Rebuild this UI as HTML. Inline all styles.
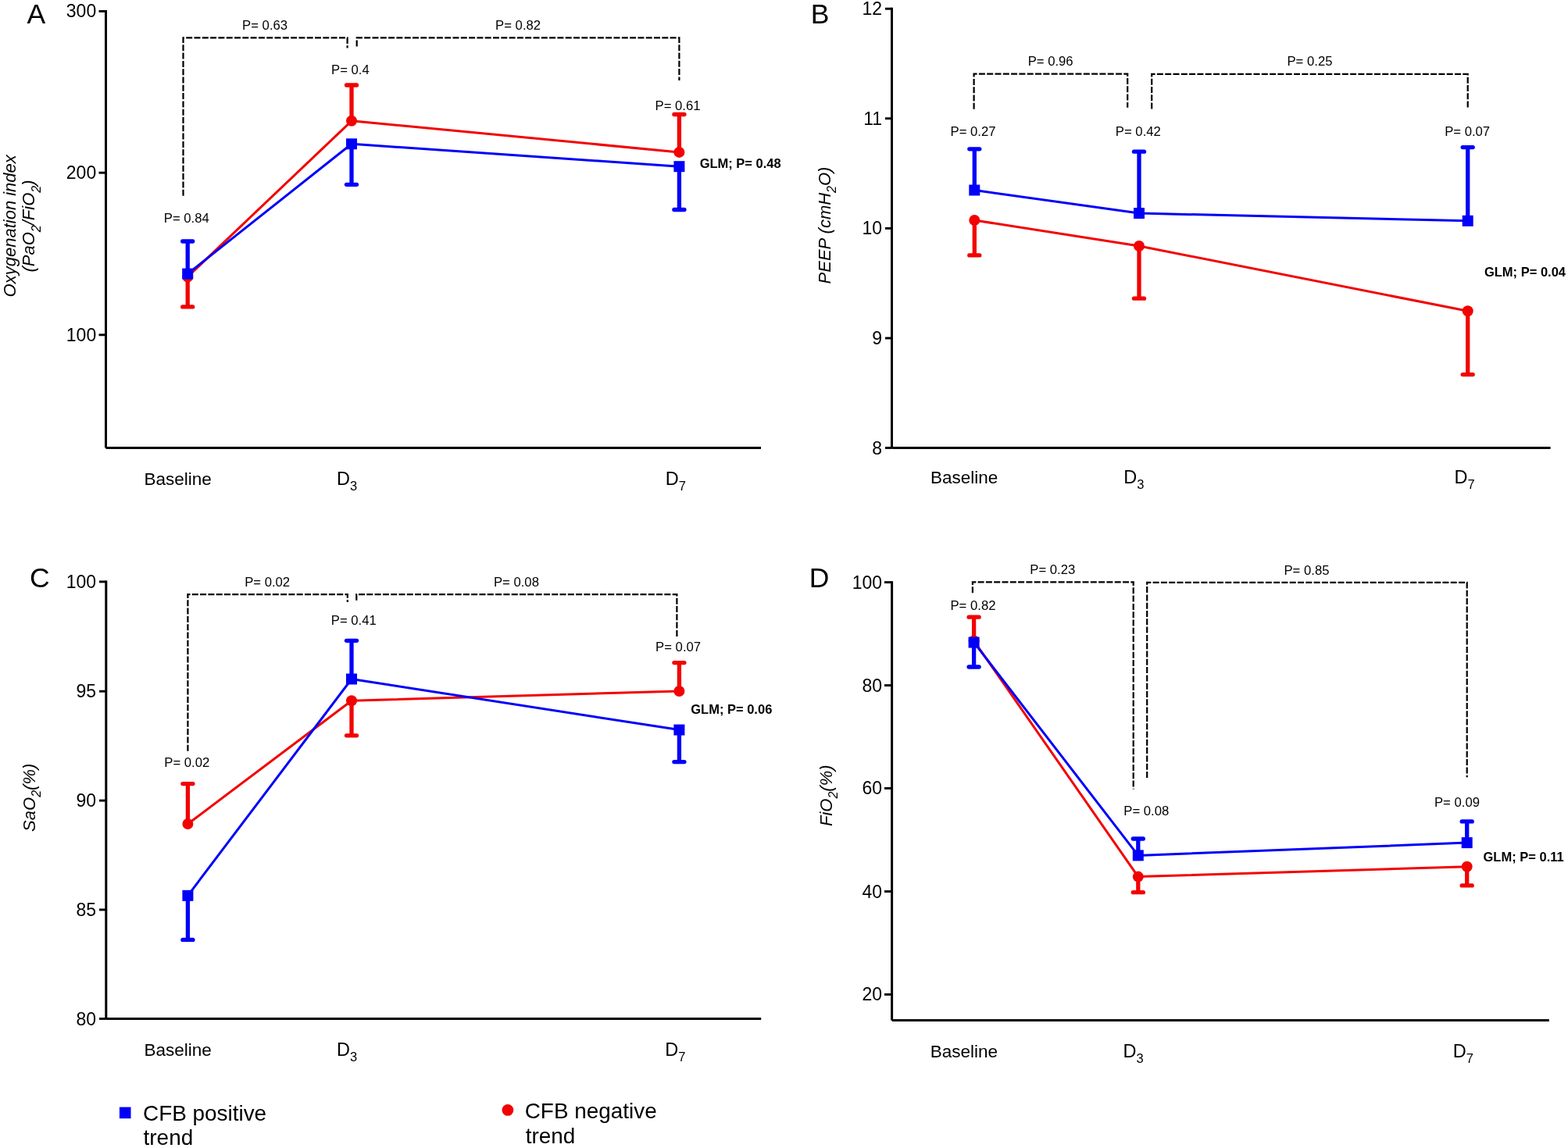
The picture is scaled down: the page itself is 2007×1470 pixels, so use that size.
<!DOCTYPE html>
<html><head><meta charset="utf-8"><title>Figure</title>
<style>
html,body{margin:0;padding:0;background:#fff;}
body{width:2007px;height:1470px;overflow:hidden;}
svg{display:block;}
text{font-family:"Liberation Sans",Arial,Helvetica,sans-serif;fill:#000;}
</style></head><body>
<svg width="2007" height="1470" viewBox="0 0 2007 1470">
<rect width="2007" height="1470" fill="#fff"/>
<text x="34.51" y="29.90" font-size="35.5">A</text>
<line x1="135.5" y1="12.950000000000001" x2="135.5" y2="573.5" stroke="#000" stroke-width="3"/>
<line x1="135.5" y1="573.5" x2="974" y2="573.5" stroke="#000" stroke-width="3"/>
<line x1="126.5" y1="14.4" x2="135.5" y2="14.4" stroke="#000" stroke-width="2.9"/>
<line x1="126.5" y1="221.2" x2="135.5" y2="221.2" stroke="#000" stroke-width="2.9"/>
<line x1="126.5" y1="428.8" x2="135.5" y2="428.8" stroke="#000" stroke-width="2.9"/>
<text x="123.19" y="22.43" font-size="23" text-anchor="end">300</text>
<text x="123.19" y="229.23" font-size="23" text-anchor="end">200</text>
<text x="123.19" y="436.83" font-size="23" text-anchor="end">100</text>
<text x="184.44" y="621.40" font-size="22.5">Baseline</text>
<text x="431.06" y="620.90" font-size="23.5">D<tspan font-size="16.5" dy="7">3</tspan></text>
<text x="851.86" y="620.90" font-size="23.5">D<tspan font-size="16.5" dy="7">7</tspan></text>
<path d="M234.5,250.7 L234.5,48.4 L444.6,48.4 L444.6,61.5" fill="none" stroke="#000" stroke-width="2.2" stroke-dasharray="8 2.3"/>
<path d="M456.7,59.5 L456.7,48.4 L869.4,48.4 L869.4,103.1" fill="none" stroke="#000" stroke-width="2.2" stroke-dasharray="8 2.3"/>
<text x="310.10" y="37.90" font-size="16.7">P= 0.63</text>
<text x="634.11" y="38.30" font-size="16.7">P= 0.82</text>
<text x="424.03" y="95.00" font-size="16.7">P= 0.4</text>
<text x="838.59" y="140.50" font-size="16.7">P= 0.61</text>
<text x="209.77" y="285.00" font-size="16.7">P= 0.84</text>
<text x="895.64" y="215.20" font-size="16.5" font-weight="bold">GLM; P= 0.48</text>
<path d="M240.2,354.5 L450.0,154.8 L869.4,194.9" fill="none" stroke="#F20202" stroke-width="3" stroke-linejoin="round"/>
<line x1="240.2" y1="354.5" x2="240.2" y2="392.9" stroke="#F20202" stroke-width="5.3"/>
<line x1="233.7" y1="392.9" x2="246.7" y2="392.9" stroke="#F20202" stroke-width="5.3" stroke-linecap="round"/>
<line x1="450.0" y1="154.8" x2="450.0" y2="109.0" stroke="#F20202" stroke-width="5.3"/>
<line x1="443.5" y1="109.0" x2="456.5" y2="109.0" stroke="#F20202" stroke-width="5.3" stroke-linecap="round"/>
<line x1="869.4" y1="194.9" x2="869.4" y2="146.5" stroke="#F20202" stroke-width="5.3"/>
<line x1="862.9" y1="146.5" x2="875.9" y2="146.5" stroke="#F20202" stroke-width="5.3" stroke-linecap="round"/>
<circle cx="240.2" cy="354.5" r="7" fill="#F20202"/>
<circle cx="450.0" cy="154.8" r="7" fill="#F20202"/>
<circle cx="869.4" cy="194.9" r="7" fill="#F20202"/>
<path d="M240.2,350.6 L450.0,184.3 L869.4,213.2" fill="none" stroke="#0000F8" stroke-width="3" stroke-linejoin="round"/>
<line x1="240.2" y1="350.6" x2="240.2" y2="309.0" stroke="#0000F8" stroke-width="5.3"/>
<line x1="233.7" y1="309.0" x2="246.7" y2="309.0" stroke="#0000F8" stroke-width="5.3" stroke-linecap="round"/>
<line x1="450.0" y1="184.3" x2="450.0" y2="236.3" stroke="#0000F8" stroke-width="5.3"/>
<line x1="443.5" y1="236.3" x2="456.5" y2="236.3" stroke="#0000F8" stroke-width="5.3" stroke-linecap="round"/>
<line x1="869.4" y1="213.2" x2="869.4" y2="268.5" stroke="#0000F8" stroke-width="5.3"/>
<line x1="862.9" y1="268.5" x2="875.9" y2="268.5" stroke="#0000F8" stroke-width="5.3" stroke-linecap="round"/>
<rect x="233.2" y="343.6" width="14" height="14" fill="#0000F8"/>
<rect x="443.0" y="177.3" width="14" height="14" fill="#0000F8"/>
<rect x="862.4" y="206.2" width="14" height="14" fill="#0000F8"/>
<text transform="translate(20.2,289.3) rotate(-90)" text-anchor="middle" font-size="22" font-style="italic">Oxygenation index</text>
<text transform="translate(44.3,289.5) rotate(-90)" text-anchor="middle" font-size="22" font-style="italic">(PaO<tspan font-size="16" dy="7.2">2</tspan><tspan dy="-7.2">/FiO</tspan><tspan font-size="16" dy="7.2">2</tspan><tspan dy="-7.2">)</tspan></text>
<text x="1037.77" y="29.90" font-size="35.5">B</text>
<line x1="1141.5" y1="9.75" x2="1141.5" y2="573.5" stroke="#000" stroke-width="3"/>
<line x1="1141.5" y1="573.5" x2="1984.6" y2="573.5" stroke="#000" stroke-width="3"/>
<line x1="1133" y1="11.2" x2="1141.5" y2="11.2" stroke="#000" stroke-width="2.9"/>
<line x1="1133" y1="151.7" x2="1141.5" y2="151.7" stroke="#000" stroke-width="2.9"/>
<line x1="1133" y1="292.4" x2="1141.5" y2="292.4" stroke="#000" stroke-width="2.9"/>
<line x1="1133" y1="433.0" x2="1141.5" y2="433.0" stroke="#000" stroke-width="2.9"/>
<line x1="1133" y1="573.5" x2="1141.5" y2="573.5" stroke="#000" stroke-width="2.9"/>
<text x="1129.09" y="19.23" font-size="23" text-anchor="end">12</text>
<text x="1129.09" y="159.73" font-size="23" text-anchor="end">11</text>
<text x="1129.09" y="300.43" font-size="23" text-anchor="end">10</text>
<text x="1129.09" y="441.03" font-size="23" text-anchor="end">9</text>
<text x="1129.09" y="581.53" font-size="23" text-anchor="end">8</text>
<text x="1191.04" y="619.40" font-size="22.5">Baseline</text>
<text x="1438.36" y="619.10" font-size="23.5">D<tspan font-size="16.5" dy="7">3</tspan></text>
<text x="1861.46" y="619.10" font-size="23.5">D<tspan font-size="16.5" dy="7">7</tspan></text>
<path d="M1246.6,139.8 L1246.6,94.6 L1443.2,94.6 L1443.2,137.8" fill="none" stroke="#000" stroke-width="2.2" stroke-dasharray="8 2.3"/>
<path d="M1474.2,139.6 L1474.2,94.8 L1878.7,94.8 L1878.7,139.5" fill="none" stroke="#000" stroke-width="2.2" stroke-dasharray="8 2.3"/>
<text x="1315.65" y="83.70" font-size="16.7">P= 0.96</text>
<text x="1647.48" y="83.80" font-size="16.7">P= 0.25</text>
<text x="1216.56" y="173.70" font-size="16.7">P= 0.27</text>
<text x="1427.86" y="173.80" font-size="16.7">P= 0.42</text>
<text x="1849.16" y="173.90" font-size="16.7">P= 0.07</text>
<text x="1899.94" y="353.80" font-size="16.5" font-weight="bold">GLM; P= 0.04</text>
<path d="M1247.3,282.0 L1458.0,315.0 L1878.7,398.3" fill="none" stroke="#F20202" stroke-width="3" stroke-linejoin="round"/>
<line x1="1247.3" y1="282.0" x2="1247.3" y2="326.9" stroke="#F20202" stroke-width="5.3"/>
<line x1="1240.8" y1="326.9" x2="1253.8" y2="326.9" stroke="#F20202" stroke-width="5.3" stroke-linecap="round"/>
<line x1="1458.0" y1="315.0" x2="1458.0" y2="382.2" stroke="#F20202" stroke-width="5.3"/>
<line x1="1451.5" y1="382.2" x2="1464.5" y2="382.2" stroke="#F20202" stroke-width="5.3" stroke-linecap="round"/>
<line x1="1878.7" y1="398.3" x2="1878.7" y2="479.6" stroke="#F20202" stroke-width="5.3"/>
<line x1="1872.2" y1="479.6" x2="1885.2" y2="479.6" stroke="#F20202" stroke-width="5.3" stroke-linecap="round"/>
<circle cx="1247.3" cy="282.0" r="7" fill="#F20202"/>
<circle cx="1458.0" cy="315.0" r="7" fill="#F20202"/>
<circle cx="1878.7" cy="398.3" r="7" fill="#F20202"/>
<path d="M1247.3,243.5 L1458.0,273.1 L1878.7,282.8" fill="none" stroke="#0000F8" stroke-width="3" stroke-linejoin="round"/>
<line x1="1247.3" y1="243.5" x2="1247.3" y2="190.8" stroke="#0000F8" stroke-width="5.3"/>
<line x1="1240.8" y1="190.8" x2="1253.8" y2="190.8" stroke="#0000F8" stroke-width="5.3" stroke-linecap="round"/>
<line x1="1458.0" y1="273.1" x2="1458.0" y2="194.2" stroke="#0000F8" stroke-width="5.3"/>
<line x1="1451.5" y1="194.2" x2="1464.5" y2="194.2" stroke="#0000F8" stroke-width="5.3" stroke-linecap="round"/>
<line x1="1878.7" y1="282.8" x2="1878.7" y2="188.6" stroke="#0000F8" stroke-width="5.3"/>
<line x1="1872.2" y1="188.6" x2="1885.2" y2="188.6" stroke="#0000F8" stroke-width="5.3" stroke-linecap="round"/>
<rect x="1240.3" y="236.5" width="14" height="14" fill="#0000F8"/>
<rect x="1451.0" y="266.1" width="14" height="14" fill="#0000F8"/>
<rect x="1871.7" y="275.8" width="14" height="14" fill="#0000F8"/>
<text transform="translate(1063.2,288.5) rotate(-90)" text-anchor="middle" font-size="22" font-style="italic">PEEP (cmH<tspan font-size="16" dy="6.5">2</tspan><tspan dy="-6.5">O)</tspan></text>
<text x="38.12" y="752.40" font-size="35.5">C</text>
<line x1="135.8" y1="743.4499999999999" x2="135.8" y2="1304.5" stroke="#000" stroke-width="3"/>
<line x1="135.8" y1="1304.5" x2="974.2" y2="1304.5" stroke="#000" stroke-width="3"/>
<line x1="127" y1="744.9" x2="135.8" y2="744.9" stroke="#000" stroke-width="2.9"/>
<line x1="127" y1="885.2" x2="135.8" y2="885.2" stroke="#000" stroke-width="2.9"/>
<line x1="127" y1="1025.1" x2="135.8" y2="1025.1" stroke="#000" stroke-width="2.9"/>
<line x1="127" y1="1164.9" x2="135.8" y2="1164.9" stroke="#000" stroke-width="2.9"/>
<line x1="127" y1="1304.5" x2="135.8" y2="1304.5" stroke="#000" stroke-width="2.9"/>
<text x="123.09" y="752.93" font-size="23" text-anchor="end">100</text>
<text x="123.09" y="893.23" font-size="23" text-anchor="end">95</text>
<text x="123.09" y="1033.13" font-size="23" text-anchor="end">90</text>
<text x="123.09" y="1172.93" font-size="23" text-anchor="end">85</text>
<text x="123.09" y="1312.53" font-size="23" text-anchor="end">80</text>
<text x="184.44" y="1351.80" font-size="22.5">Baseline</text>
<text x="431.06" y="1352.00" font-size="23.5">D<tspan font-size="16.5" dy="7">3</tspan></text>
<text x="851.36" y="1352.00" font-size="23.5">D<tspan font-size="16.5" dy="7">7</tspan></text>
<path d="M240.4,961.7 L240.4,761.1 L444.8,761.1 L444.8,771.0" fill="none" stroke="#000" stroke-width="2.2" stroke-dasharray="8 2.3"/>
<path d="M456.3,768.7 L456.3,761.1 L866.4,761.1 L866.4,815.2" fill="none" stroke="#000" stroke-width="2.2" stroke-dasharray="8 2.3"/>
<text x="313.16" y="750.60" font-size="16.7">P= 0.02</text>
<text x="631.95" y="750.50" font-size="16.7">P= 0.08</text>
<text x="423.84" y="800.20" font-size="16.7">P= 0.41</text>
<text x="839.11" y="834.40" font-size="16.7">P= 0.07</text>
<text x="210.26" y="981.60" font-size="16.7">P= 0.02</text>
<text x="884.24" y="914.30" font-size="16.5" font-weight="bold">GLM; P= 0.06</text>
<path d="M240.4,1055.0 L450.0,897.2 L869.4,885.0" fill="none" stroke="#F20202" stroke-width="3" stroke-linejoin="round"/>
<line x1="240.4" y1="1055.0" x2="240.4" y2="1003.6" stroke="#F20202" stroke-width="5.3"/>
<line x1="233.9" y1="1003.6" x2="246.9" y2="1003.6" stroke="#F20202" stroke-width="5.3" stroke-linecap="round"/>
<line x1="450.0" y1="897.2" x2="450.0" y2="941.8" stroke="#F20202" stroke-width="5.3"/>
<line x1="443.5" y1="941.8" x2="456.5" y2="941.8" stroke="#F20202" stroke-width="5.3" stroke-linecap="round"/>
<line x1="869.4" y1="885.0" x2="869.4" y2="848.6" stroke="#F20202" stroke-width="5.3"/>
<line x1="862.9" y1="848.6" x2="875.9" y2="848.6" stroke="#F20202" stroke-width="5.3" stroke-linecap="round"/>
<circle cx="240.4" cy="1055.0" r="7" fill="#F20202"/>
<circle cx="450.0" cy="897.2" r="7" fill="#F20202"/>
<circle cx="869.4" cy="885.0" r="7" fill="#F20202"/>
<path d="M240.4,1146.8 L450.0,869.5 L869.4,934.6" fill="none" stroke="#0000F8" stroke-width="3" stroke-linejoin="round"/>
<line x1="240.4" y1="1146.8" x2="240.4" y2="1203.4" stroke="#0000F8" stroke-width="5.3"/>
<line x1="233.9" y1="1203.4" x2="246.9" y2="1203.4" stroke="#0000F8" stroke-width="5.3" stroke-linecap="round"/>
<line x1="450.0" y1="869.5" x2="450.0" y2="820.3" stroke="#0000F8" stroke-width="5.3"/>
<line x1="443.5" y1="820.3" x2="456.5" y2="820.3" stroke="#0000F8" stroke-width="5.3" stroke-linecap="round"/>
<line x1="869.4" y1="934.6" x2="869.4" y2="975.6" stroke="#0000F8" stroke-width="5.3"/>
<line x1="862.9" y1="975.6" x2="875.9" y2="975.6" stroke="#0000F8" stroke-width="5.3" stroke-linecap="round"/>
<rect x="233.4" y="1139.8" width="14" height="14" fill="#0000F8"/>
<rect x="443.0" y="862.5" width="14" height="14" fill="#0000F8"/>
<rect x="862.4" y="927.6" width="14" height="14" fill="#0000F8"/>
<text transform="translate(45.1,1021.3) rotate(-90)" text-anchor="middle" font-size="22" font-style="italic">SaO<tspan font-size="16" dy="6.5">2</tspan><tspan dy="-6.5">(%)</tspan></text>
<text x="1035.67" y="751.60" font-size="35.5">D</text>
<line x1="1141.6" y1="744.15" x2="1141.6" y2="1306.4" stroke="#000" stroke-width="3"/>
<line x1="1141.6" y1="1306.4" x2="1982.8" y2="1306.4" stroke="#000" stroke-width="3"/>
<line x1="1132" y1="745.6" x2="1141.6" y2="745.6" stroke="#000" stroke-width="2.9"/>
<line x1="1132" y1="877.6" x2="1141.6" y2="877.6" stroke="#000" stroke-width="2.9"/>
<line x1="1132" y1="1009.4" x2="1141.6" y2="1009.4" stroke="#000" stroke-width="2.9"/>
<line x1="1132" y1="1141.5" x2="1141.6" y2="1141.5" stroke="#000" stroke-width="2.9"/>
<line x1="1132" y1="1273.4" x2="1141.6" y2="1273.4" stroke="#000" stroke-width="2.9"/>
<text x="1129.09" y="753.63" font-size="23" text-anchor="end">100</text>
<text x="1129.09" y="885.63" font-size="23" text-anchor="end">80</text>
<text x="1129.09" y="1017.43" font-size="23" text-anchor="end">60</text>
<text x="1129.09" y="1149.53" font-size="23" text-anchor="end">40</text>
<text x="1129.09" y="1281.43" font-size="23" text-anchor="end">20</text>
<text x="1190.74" y="1353.70" font-size="22.5">Baseline</text>
<text x="1437.56" y="1354.00" font-size="23.5">D<tspan font-size="16.5" dy="7">3</tspan></text>
<text x="1859.76" y="1354.00" font-size="23.5">D<tspan font-size="16.5" dy="7">7</tspan></text>
<path d="M1244.9,759.3 L1244.9,745.4 L1450.7,745.4 L1450.7,1010.5" fill="none" stroke="#000" stroke-width="2.2" stroke-dasharray="8 2.3"/>
<path d="M1468.2,996.0 L1468.2,745.9 L1877.7,745.9 L1877.7,995.3" fill="none" stroke="#000" stroke-width="2.2" stroke-dasharray="8 2.3"/>
<text x="1318.30" y="734.90" font-size="16.7">P= 0.23</text>
<text x="1643.48" y="735.70" font-size="16.7">P= 0.85</text>
<text x="1216.46" y="781.00" font-size="16.7">P= 0.82</text>
<text x="1438.30" y="1044.00" font-size="16.7">P= 0.08</text>
<text x="1835.97" y="1032.50" font-size="16.7">P= 0.09</text>
<text x="1898.54" y="1102.90" font-size="16.5" font-weight="bold">GLM; P= 0.11</text>
<path d="M1246.6,820.5 L1456.8,1122.6 L1877.7,1109.7" fill="none" stroke="#F20202" stroke-width="3" stroke-linejoin="round"/>
<line x1="1246.6" y1="820.5" x2="1246.6" y2="790.2" stroke="#F20202" stroke-width="5.3"/>
<line x1="1240.1" y1="790.2" x2="1253.1" y2="790.2" stroke="#F20202" stroke-width="5.3" stroke-linecap="round"/>
<line x1="1456.8" y1="1122.6" x2="1456.8" y2="1142.7" stroke="#F20202" stroke-width="5.3"/>
<line x1="1450.3" y1="1142.7" x2="1463.3" y2="1142.7" stroke="#F20202" stroke-width="5.3" stroke-linecap="round"/>
<line x1="1877.7" y1="1109.7" x2="1877.7" y2="1133.9" stroke="#F20202" stroke-width="5.3"/>
<line x1="1871.2" y1="1133.9" x2="1884.2" y2="1133.9" stroke="#F20202" stroke-width="5.3" stroke-linecap="round"/>
<circle cx="1246.6" cy="820.5" r="7" fill="#F20202"/>
<circle cx="1456.8" cy="1122.6" r="7" fill="#F20202"/>
<circle cx="1877.7" cy="1109.7" r="7" fill="#F20202"/>
<path d="M1246.6,822.6 L1456.8,1095.4 L1877.7,1079.1" fill="none" stroke="#0000F8" stroke-width="3" stroke-linejoin="round"/>
<line x1="1246.6" y1="822.6" x2="1246.6" y2="854.0" stroke="#0000F8" stroke-width="5.3"/>
<line x1="1240.1" y1="854.0" x2="1253.1" y2="854.0" stroke="#0000F8" stroke-width="5.3" stroke-linecap="round"/>
<line x1="1456.8" y1="1095.4" x2="1456.8" y2="1074.0" stroke="#0000F8" stroke-width="5.3"/>
<line x1="1450.3" y1="1074.0" x2="1463.3" y2="1074.0" stroke="#0000F8" stroke-width="5.3" stroke-linecap="round"/>
<line x1="1877.7" y1="1079.1" x2="1877.7" y2="1051.9" stroke="#0000F8" stroke-width="5.3"/>
<line x1="1871.2" y1="1051.9" x2="1884.2" y2="1051.9" stroke="#0000F8" stroke-width="5.3" stroke-linecap="round"/>
<rect x="1239.6" y="815.6" width="14" height="14" fill="#0000F8"/>
<rect x="1449.8" y="1088.4" width="14" height="14" fill="#0000F8"/>
<rect x="1870.7" y="1072.1" width="14" height="14" fill="#0000F8"/>
<text transform="translate(1065.2,1018.7) rotate(-90)" text-anchor="middle" font-size="22" font-style="italic">FiO<tspan font-size="16" dy="6.5">2</tspan><tspan dy="-6.5">(%)</tspan></text>
<rect x="152.9" y="1417.6" width="14.6" height="14.6" fill="#0000F8"/>
<circle cx="649.9" cy="1421.4" r="7.4" fill="#F20202"/>
<text x="183.00" y="1434.60" font-size="27.9">CFB positive</text>
<text x="183.58" y="1466.10" font-size="27.9">trend</text>
<text x="671.71" y="1431.50" font-size="27.9">CFB negative</text>
<text x="672.68" y="1463.70" font-size="27.9">trend</text>
</svg>
</body></html>
